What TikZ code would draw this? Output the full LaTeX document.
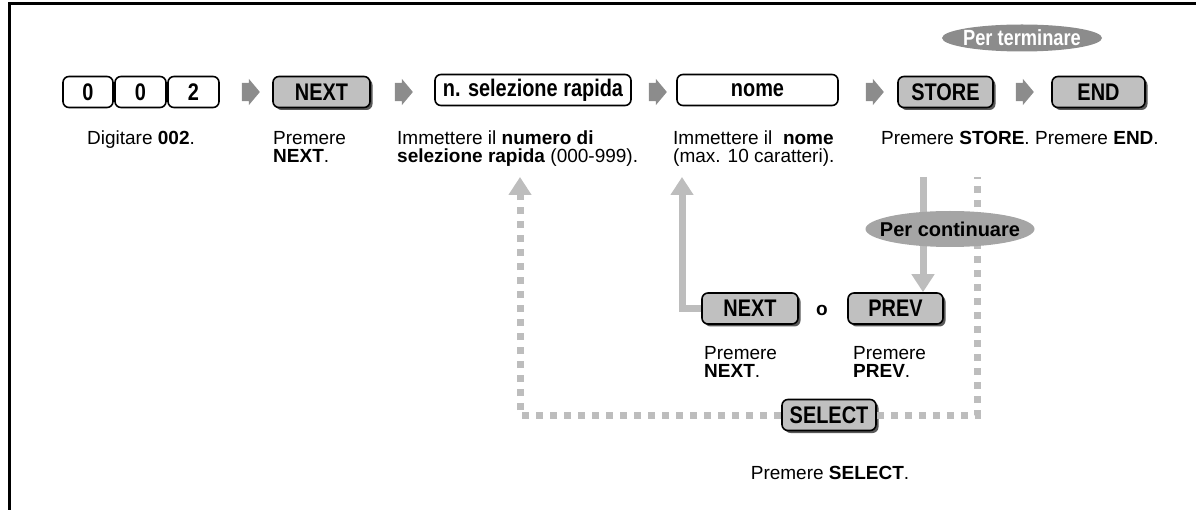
\documentclass[tikz,border=0pt]{standalone}
\usepackage{fontspec}
\setmainfont{Liberation Sans}
\newfontfamily\keyfont[FakeStretch=0.83]{Liberation Sans}
\usetikzlibrary{shapes.geometric, shapes.arrows, shadows, arrows.meta}
\definecolor{keygray}{HTML}{C0C0C0}
\definecolor{flowgray}{HTML}{BDBDBD}
\definecolor{stepgray}{HTML}{8C8C8C}
\definecolor{ovalgray}{HTML}{A5A5A5}

\begin{document}
\begin{tikzpicture}[x=1pt, y=-1pt,
  key/.style={draw, line width=1.6pt, rounded corners=6pt, fill=white, minimum height=31pt, inner sep=0pt,
    font=\keyfont\fontsize{24}{24}\selectfont\bfseries},
  softkey/.style={key, fill=keygray, drop shadow={shadow xshift=2.5pt, shadow yshift=-2.5pt, fill=black!65, opacity=1}},
  go/.style={single arrow, fill=stepgray, inner xsep=0pt, inner ysep=9pt, single arrow head extend=4pt,
    minimum height=18pt, single arrow tip angle=100},
  txt/.style={align=left, anchor=north west, inner sep=0pt, font=\fontsize{19}{18}\selectfont},
  oval/.style={ellipse, inner sep=0pt, font=\keyfont\fontsize{22}{22}\selectfont\bfseries},
  flow/.style={draw=flowgray, line width=7pt},
  dots/.style={flow, dash pattern=on 7pt off 7pt},
  tip/.style={-{Triangle[width=22pt, length=18pt]}}]
\useasboundingbox (0,0) rectangle (1196,510);
\draw[line width=3pt] (9,510) -- (9,4) -- (1196,4);

\node[key, minimum width=50pt] (d0a) at (88,92) {0};
\node[key, minimum width=51pt] (d0b) at (140.5,92) {0};
\node[key, minimum width=51pt] (d2) at (193.5,92) {2};
\node[go] (g1) at (247,92) {};
\node[softkey, minimum width=97pt] (next) at (321.5,92) {NEXT};
\node[go] (g2) at (400,92) {};
\node[key, minimum width=196pt] (speed) at (533,90) {n. selezione rapida};
\node[go] (g3) at (654,92) {};
\node[key, minimum width=161pt] (name) at (757.5,90) {nome};
\node[go] (g4) at (871,92) {};
\node[softkey, minimum width=95pt] (store) at (945.5,92) {STORE};
\node[go] (g5) at (1021,92) {};
\node[softkey, minimum width=93pt] (end) at (1098.5,92) {END};
\node[oval, fill=stepgray, text=white, minimum width=160pt, minimum height=27pt] (finish) at (1022,38)
  {\makebox[0pt]{Per terminare}};

\node[txt, anchor=north] (l1) at (141,131) {Digitare \textbf{002}.};
\node[txt] (l2) at (273,131) {Premere\\\textbf{NEXT}.};
\node[txt] (l3) at (397,131) {Immettere il \textbf{numero di}\\\textbf{selezione rapida} (000-999).};
\node[txt] (l4) at (673,131) {Immettere il\ \ \textbf{nome}\\(max. 10 caratteri).};
\node[txt] (l5) at (881,131) {Premere \textbf{STORE}.};
\node[txt] (l6) at (1035,131) {Premere \textbf{END}.};

\node[softkey, minimum width=96pt] (nextb) at (750,308.5) {NEXT};
\node[font=\fontsize{19}{19}\selectfont\bfseries] (or) at (822,310) {o};
\node[softkey, minimum width=95pt] (prev) at (895.5,308.5) {PREV};
\node[txt] (l7) at (704,346) {Premere\\\textbf{NEXT}.};
\node[txt] (l8) at (853,346) {Premere\\\textbf{PREV}.};
\node[softkey, minimum width=94pt] (select) at (829,415) {SELECT};
\node[txt, anchor=north] (l9) at (830,466) {Premere \textbf{SELECT}.};

\coordinate (nameIn) at (682,177);
\coordinate (storeOut) at (923,177);
\coordinate (speedIn) at (520,177);
\coordinate (loopEnd) at (977,177);
\draw[flow, tip] (nextb.west) -| (nameIn);
\draw[flow, tip] (storeOut) -- (storeOut |- prev.north);
\draw[dots, tip] (select.west) -| (speedIn);
\draw[dots] (select.east) -| (loopEnd);
\node[oval, fill=ovalgray, minimum width=169pt, minimum height=36pt, font=\fontsize{20}{20}\selectfont\bfseries] (more) at (950,229)
  {\makebox[0pt]{Per continuare}};
\end{tikzpicture}
\end{document}
